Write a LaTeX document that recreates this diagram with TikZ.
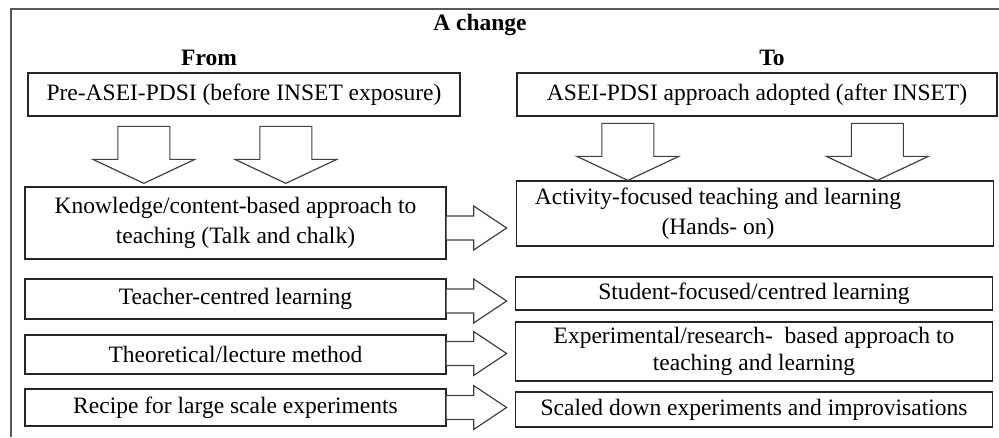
\documentclass[tikz,border=0pt]{standalone}
\usepackage{fontspec}
\setmainfont{Liberation Serif}
\usepackage{tikz}
\usetikzlibrary{positioning,calc}
\tikzset{
    box/.style={rectangle, draw=black!85, line width=1.3pt, fill=white, inner sep=2pt, align=center, font=\fontsize{23.5}{30}\selectfont},
    left box/.style={box, minimum width=421pt},
    right box/.style={box, minimum width=477pt},
    heading/.style={font=\fontsize{23.5}{27}\selectfont\bfseries},
    block arrow/.style={draw=black!75, line width=1.2pt, fill=white, line join=miter},
    frame line/.style={draw=black!65, line width=1.6pt}
}

\begin{document}
\begin{tikzpicture}[x=1pt, y=-1pt]
    \useasboundingbox (0,0) rectangle (999,437);

    % Outer frame (open at bottom and right)
    \draw[frame line] (11,437) -- (11,9) -- (999,9);

    % Headings
    \node[heading] (change) at (480,25) {A change};
    \node[heading] (from) at (209,58) {From};
    \node[heading] (to) at (772,58) {To};

    % Top boxes
    \node[box, minimum width=432pt, minimum height=43pt] (pre) at (244,94.5) {Pre-ASEI-PDSI (before INSET exposure)};
    \node[box, minimum width=480pt, minimum height=43pt] (post) at (757,94.5) {ASEI-PDSI approach adopted (after INSET)};

    % Left column
    \node[left box, minimum height=72pt] (know) at (235.5,223) {Knowledge/content-based approach to\\teaching (Talk and chalk)};
    \node[left box, minimum height=40pt] (teach) at (235.5,299) {Teacher-centred learning};
    \node[left box, minimum height=39pt] (theo) at (235.5,354.5) {Theoretical/lecture method};
    \node[left box, minimum height=37pt] (recipe) at (235.5,407.5) {Recipe for large scale experiments};

    % Right column
    \node[right box, minimum height=65pt] (act) at (755,213.5) {\begin{tabular}{@{}c@{}}Activity-focused teaching and learning\\(Hands- on)\end{tabular}\hspace*{74pt}};
    \node[right box, minimum height=33pt] (stud) at (754,293.5) {Student-focused/centred learning};
    \node[right box, minimum height=59pt, font=\fontsize{23.5}{27}\selectfont] (expt) at (754,351.5) {Experimental/research-~ based approach to\\teaching and learning};
    \node[right box, minimum height=35pt] (scaled) at (754,409.5) {Scaled down experiments and improvisations};

    % Down arrows into the first row
    \foreach \x in {119.5,261.5} {
        \draw[block arrow] ($(know.north west)+(\x,-3)$) -- ++(-51,-24) -- ++(25,0) -- ++(0,-33)
            -- ++(52,0) -- ++(0,33) -- ++(25,0) -- cycle;
    }
    \foreach \x in {112,361.5} {
        \draw[block arrow] ($(act.north west)+(\x,0)$) -- ++(-51,-24) -- ++(25,0) -- ++(0,-33)
            -- ++(52,0) -- ++(0,33) -- ++(25,0) -- cycle;
    }

    % Right arrows from left column to right column
    \foreach \a/\dy in {know/5,teach/2,theo/-1,recipe/0} {
        \draw[block arrow] ($(\a.east)+(0,\dy-12)$) -- ++(27,0) -- ++(0,-10) -- ++(33,22)
            -- ++(-33,22) -- ++(0,-10) -- ++(-27,0);
    }
\end{tikzpicture}
\end{document}
